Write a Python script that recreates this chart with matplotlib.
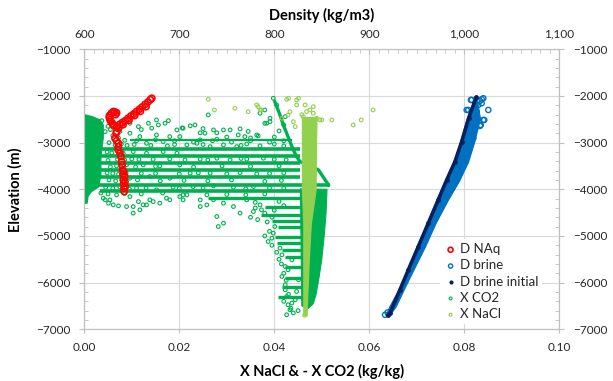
import matplotlib.pyplot as plt
from matplotlib.ticker import MultipleLocator, FuncFormatter

plt.rcParams['font.family'] = ['Lato', 'DejaVu Sans']

# ---- X CO2 (kg/kg), scattered points
co2_x = [0.0037, 0.0061, 0.0096, 0.0114, 0.0135, 0.0152, 0.0170, 0.0177, 0.0195, 0.0208,
         0.0096, 0.0117, 0.0152, 0.0180, 0.0201, 0.0044, 0.0131, 0.0166, 0.0156, 0.0206,
         0.0223, 0.0328, 0.0307, 0.0279, 0.0366, 0.0142, 0.0244, 0.0261, 0.0233, 0.0254,
         0.0272, 0.0293, 0.0324, 0.0338, 0.0363, 0.0384, 0.0391, 0.0370, 0.0244, 0.0279,
         0.0216, 0.0237, 0.0265, 0.0293, 0.0321, 0.0342, 0.0370, 0.0212, 0.0244, 0.0279,
         0.0307, 0.0342, 0.0377, 0.0223, 0.0265, 0.0300, 0.0328, 0.0363, 0.0229, 0.0272,
         0.0314, 0.0356, 0.0216, 0.0258, 0.0293, 0.0244, 0.0272, 0.0208, 0.0082, 0.0103,
         0.0131, 0.0166, 0.0195, 0.0089, 0.0124, 0.0159, 0.0201, 0.0096, 0.0138, 0.0180,
         0.0110, 0.0152, 0.0187, 0.0040, 0.0054, 0.0096, 0.0114, 0.0124, 0.0138, 0.0159,
         0.0180, 0.0201, 0.0103, 0.0051, 0.0044, 0.0061, 0.0072, 0.0089, 0.0103, 0.0117,
         0.0131, 0.0145, 0.0173, 0.0208, 0.0244, 0.0258, 0.0279, 0.0282, 0.0293, 0.0314,
         0.0328, 0.0356, 0.0370, 0.0342, 0.0387, 0.0395, 0.0398, 0.0412, 0.0416, 0.0423,
         0.0416, 0.0423, 0.0426, 0.0429, 0.0426, 0.0433, 0.0437, 0.0444, 0.0429, 0.0437,
         0.0401, 0.0380, 0.0373, 0.0423, 0.0447, 0.0451, 0.0482, 0.0486, 0.0489, 0.0398,
         0.0405, 0.0380, 0.0391, 0.0380, 0.0423,
         0.0050, 0.0055, 0.0068, 0.0075, 0.0082, 0.0060, 0.0072, 0.0085, 0.0052, 0.0065,
         0.0078, 0.0090, 0.0105, 0.0048, 0.0058, 0.0070, 0.0050, 0.0085, 0.0100, 0.0115,
         0.0055, 0.0068, 0.0078, 0.0108, 0.0048, 0.0060, 0.0072, 0.0088, 0.0120, 0.0052,
         0.0066, 0.0082, 0.0112, 0.0045, 0.0060, 0.0075, 0.0095, 0.0130, 0.0035, 0.0050,
         0.0068, 0.0085, 0.0120, 0.0165,
         0.0140, 0.0175, 0.0190, 0.0250, 0.0330, 0.0400, 0.0420, 0.0145, 0.0180, 0.0260,
         0.0330, 0.0400, 0.0425, 0.0150, 0.0230, 0.0290, 0.0350, 0.0410, 0.0150, 0.0200,
         0.0240, 0.0390, 0.0420, 0.0160, 0.0210, 0.0260, 0.0310, 0.0380, 0.0415, 0.0200,
         0.0250, 0.0340, 0.0390, 0.0420, 0.0300, 0.0340, 0.0380, 0.0410, 0.0360, 0.0400,
         0.0420,
         0.0110, 0.0150, 0.0190, 0.0230, 0.0270, 0.0310, 0.0350, 0.0390, 0.0420, 0.0300,
         0.0350, 0.0400, 0.0120, 0.0250, 0.0345, 0.0410, 0.0420,
         0.0350, 0.0365, 0.0385, 0.0395, 0.0360, 0.0390, 0.0380, 0.0395, 0.0405, 0.0410,
         0.0415, 0.0420, 0.0425, 0.0430, 0.0420, 0.0435, 0.0440, 0.0450]
co2_elev = [-2529, -2550, -2584, -2657, -2584, -2514, -2584, -2529, -2728, -2691,
            -2798, -2871, -2835, -2871, -2871, -2764, -3013, -2978, -2620, -2685,
            -2640, -2705, -2728, -2790, -2855, -2690, -2790, -2405, -2621, -2798,
            -2728, -2728, -2835, -2871, -2835, -2584, -2550, -2370, -2942, -2927,
            -3049, -3013, -3085, -3049, -3085, -3028, -3070, -3370, -3355, -3334,
            -3370, -3355, -3334, -3655, -3655, -3670, -3642, -3670, -3942, -3927,
            -3955, -3942, -4119, -4119, -4297, -4370, -4226, -4226, -3227, -3192,
            -3227, -3192, -3227, -3477, -3477, -3499, -3477, -3762, -3727, -3762,
            -3976, -4012, -3955, -4190, -4226, -4156, -4263, -4334, -4226, -4297,
            -4226, -4156, -4370, -4297, -4226, -4334, -4355, -4370, -4511, -4440,
            -4334, -4263, -4190, -4119, -4226, -4334, -4584, -4798, -4725, -4370,
            -4511, -4477, -4334, -4226, -5119, -5047, -4940, -5261, -5404, -5654,
            -5868, -6046, -6297, -6475, -6689, -6582, -6438, -6368, -5725, -5511,
            -4798, -4511, -4440, -6153, -6190, -5939, -6153, -6010, -5868, -2049,
            -2193, -2300, -2477, -2584, -2443,
            -2650, -2720, -2690, -2760, -2650, -2850, -2900, -2950, -3000, -3050,
            -3030, -3060, -3040, -3200, -3220, -3360, -3380, -3370, -3350, -3360,
            -3520, -3500, -3520, -3520, -3650, -3660, -3680, -3650, -3660, -3800,
            -3820, -3810, -3800, -3960, -3980, -3950, -3990, -3970, -4080, -4100,
            -4120, -4090, -4100, -4080,
            -3060, -3070, -3040, -3040, -3060, -3030, -3070, -3360, -3350, -3370,
            -3340, -3360, -3370, -3510, -3520, -3500, -3510, -3500, -3660, -3670,
            -3650, -3660, -3650, -3820, -3810, -3820, -3800, -3830, -3810, -3980,
            -3970, -3990, -3970, -3980, -4110, -4120, -4100, -4260, -4280, -4450,
            -4350,
            -2960, -2940, -2960, -2990, -2960, -2990, -2960, -2990, -2960, -2880,
            -2900, -2880, -2720, -2700, -2760, -2750, -2620,
            -4600, -4650, -4700, -4600, -4400, -4900, -5000, -5200, -5350, -5500,
            -5600, -5800, -5950, -6250, -6400, -6550, -6650, -6600]

# dense X CO2 rows: elevation, start and end of each row
co2_row_elev = [-2942, -3135, -3285, -3434, -3584, -3734, -3905, -4034, -4184, -4377]
co2_row_x0 = [0.0096, 0.0, 0.0, 0.0, 0.0, 0.0, 0.0, 0.0033, 0.0260, 0.0380]
co2_row_x1 = [0.0437, 0.0454, 0.0454, 0.0454, 0.0454, 0.0454, 0.0517, 0.0454, 0.0460, 0.0460]
co2_row_width = [1.6, 2.6, 2.6, 2.6, 2.6, 2.6, 2.6, 2.6, 2.4, 2.4]

# short dense X CO2 rows below -4300 m
co2_stub_elev = [-4547, -4676, -4805, -5019, -5147, -5297, -5447, -5661, -5896, -6089, -6303]
co2_stub_x0 = [0.0373, 0.0395, 0.0408, 0.0401, 0.0405, 0.0416, 0.0423, 0.0423, 0.0423, 0.0416, 0.0408]
co2_stub_x1 = [0.0460] * 11

# dense X CO2 track near 0.04
co2_track_x = [0.0401, 0.0412, 0.0419, 0.0426, 0.0433, 0.0440, 0.0447, 0.0454,
               0.0493, 0.0500, 0.0507, 0.0514]
co2_track_elev = [-2122, -2407, -2621, -2798, -2978, -3156, -3299, -3406,
                  -3584, -3691, -3798, -3905]

# solid X CO2 clusters (outline)
co2_left_x = [0.0, 0.0016, 0.0033, 0.0040, 0.0040, 0.0035, 0.0035, 0.0030,
              0.0015, 0.0008, 0.0006, 0.0]
co2_left_elev = [-2400, -2440, -2510, -2620, -2900, -3300, -3700, -3950,
                 -4050, -4150, -4300, -4300]
co2_right_x = [0.0455, 0.0511, 0.0509, 0.0505, 0.0500, 0.0494, 0.0488, 0.0482, 0.0472, 0.0458]
co2_right_elev = [-3990, -4000, -4500, -5000, -5500, -5900, -6250, -6450, -6550, -6500]

# ---- X NaCl (kg/kg)
nacl_band_elev = [-2450, -3000, -4000, -4230, -4725, -5440, -6150, -6700]
nacl_band_left = [0.0458, 0.0458, 0.0458, 0.0459, 0.0461, 0.0461, 0.0461, 0.0461]
nacl_band_right = [0.0489, 0.0488, 0.0487, 0.0484, 0.0477, 0.0473, 0.0470, 0.0468]
nacl_x = [0.0261, 0.0274, 0.0317, 0.0345, 0.0366, 0.0373, 0.0426, 0.0447, 0.0363, 0.0370,
          0.0430, 0.0451, 0.0447, 0.0465, 0.0482, 0.0500, 0.0521, 0.0566, 0.0444, 0.0440,
          0.0416, 0.0433, 0.0429, 0.0496, 0.0583, 0.0608, 0.0461, 0.0468, 0.0482, 0.0489,
          0.0475, 0.0458, 0.0464]
nacl_elev = [-2071, -2300, -2263, -2336, -2229, -2300, -2071, -2085, -2193, -2300,
             -2049, -2049, -2193, -2193, -2229, -2514, -2514, -2621, -2657, -2550,
             -2477, -2336, -2407, -2514, -2514, -2300, -2443, -2336, -2370, -2477,
             -2300, -2400, -6700]

# ---- D NAq (kg/m3)
naq_density = [634.0, 637.0, 640.0, 643.0, 646.0, 649.0, 652.0, 655.0, 658.0, 661.0,
               664.0, 667.0, 669.5, 671.0, 636.0, 641.0, 647.0, 653.0, 659.0, 665.0,
               630.5, 628.5, 626.5, 626.3, 627.0, 628.0, 629.5, 631.0, 633.0, 634.0, 632.0,
               635.8, 634.1, 633.5, 632.3, 634.0, 635.8, 635.8, 635.8, 637.6, 638.5,
               639.4, 639.8, 640.4, 640.7, 641.0, 641.4, 641.8, 642.0, 641.5, 642.5,
               642.8, 643.0]
naq_elev = [-2660, -2610, -2570, -2530, -2480, -2430, -2385, -2335, -2285, -2235,
            -2180, -2130, -2080, -2050, -2690, -2610, -2520, -2420, -2330, -2230,
            -2335, -2370, -2420, -2460, -2510, -2550, -2590, -2630, -2400, -2360, -2340,
            -2691, -2760, -2800, -2906, -2960, -3013, -3090, -3156, -3227, -3300,
            -3406, -3480, -3584, -3680, -3798, -3880, -3976, -4048, -3620, -3720,
            -3840, -3940]

# ---- D brine (kg/m3): dense band and scattered points
brine_elev = [-2050, -2477, -2978, -3407, -3820, -4226, -4725, -5226, -5725, -6153, -6511, -6700]
brine_left = [1010.5, 1002.5, 995.5, 988.5, 979.5, 970.5, 960.5, 950.0, 939.5, 930.5, 921.0, 917.0]
brine_right = [1013.0, 1016.5, 1010.5, 1004.0, 994.4, 982.7, 969.7, 958.6, 946.4, 936.1, 927.8, 920.7]
brine_density = [1007.0, 1004.2, 1016.5, 1020.0, 1018.3, 1025.3, 1021.0, 1017.3, 1014.7, 1009.5,
                 1013.0, 1011.3, 1009.5, 1020.0, 1016.5, 1007.8, 1018.3, 1002.5, 916.6, 919.2]
brine_pt_elev = [-2085, -2300, -2107, -2049, -2156, -2300, -2514, -2621, -2193, -2407,
                 -2336, -2691, -2906, -2514, -2642, -2085, -2071, -2300, -6689, -6640]

# ---- D brine initial (kg/m3)
init_density = [1012.6, 1004.6, 997.3, 990.2, 981.5, 972.6, 962.1, 951.6, 941.1, 932.3, 921.8, 919.5]
init_elev = [-2030, -2477, -2978, -3407, -3798, -4226, -4725, -5226, -5725, -6153, -6652, -6700]

GREEN = '#00B050'
LIGHT = '#92D050'
RED = '#FF0000'
BLUE = '#0070C0'
NAVY = '#002060'
EDGE = '#BFBFBF'
TXT = '#262626'

fig = plt.figure(figsize=(6.13, 3.81), dpi=100)
ax = fig.add_axes([0.1375, 0.1357, 0.7749, 0.7349])
ax.set_xlim(0, 0.10)
ax.set_ylim(-7000, -1000)

# mass fractions on the bottom axis
ax.fill(co2_left_x, co2_left_elev, color=GREEN, lw=0.8, zorder=2)
ax.fill(co2_right_x, co2_right_elev, color=GREEN, lw=0.8, zorder=2)
ax.hlines(co2_row_elev, co2_row_x0, co2_row_x1, color=GREEN, lw=co2_row_width, zorder=2)
ax.hlines(co2_stub_elev, co2_stub_x0, co2_stub_x1, color=GREEN, lw=2.4, zorder=2)
ax.plot(co2_track_x, co2_track_elev, color=GREEN, lw=2.4, zorder=2)
co2_sc = ax.scatter(co2_x, co2_elev, s=7, facecolors='none', edgecolors=GREEN,
                    linewidths=0.8, zorder=3, label='X CO2')
ax.fill_betweenx(nacl_band_elev, nacl_band_left, nacl_band_right, color=LIGHT, lw=0.8, zorder=4)
nacl_sc = ax.scatter(nacl_x, nacl_elev, s=7, facecolors='none', edgecolors=LIGHT,
                     linewidths=0.8, zorder=4, label='X NaCl')

ax.grid(True, color='#D9D9D9', lw=0.8, zorder=0)
ax.set_axisbelow(True)
ax.xaxis.set_major_locator(MultipleLocator(0.02))
ax.xaxis.set_major_formatter(FuncFormatter(lambda v, p: '%.2f' % v))
ax.yaxis.set_major_locator(MultipleLocator(1000))
ax.yaxis.set_minor_locator(MultipleLocator(200))
ax.tick_params(axis='x', which='major', direction='out', length=3, color=EDGE,
               labelsize=8.5, labelcolor=TXT, pad=6)
ax.tick_params(axis='y', which='major', direction='out', length=3.3, color=EDGE,
               labelsize=8.5, labelcolor=TXT, pad=6.5, right=True, labelright=True)
ax.tick_params(axis='y', which='minor', direction='in', length=3, color=EDGE, right=True)
ax.set_xlabel('X NaCl & - X CO2 (kg/kg)', fontsize=10.5, fontweight='bold', labelpad=8)
ax.set_ylabel('Elevation (m)', fontsize=10.5, fontweight='bold', labelpad=10)
for sp in ax.spines.values():
    sp.set_color(EDGE)
    sp.set_linewidth(0.8)

# densities on the top axis
ax2 = ax.twiny()
ax2.set_xlim(600, 1100)
ax2.fill_betweenx(brine_elev, brine_left, brine_right, color=BLUE, lw=0.8, zorder=2)
brine_sc = ax2.scatter(brine_density, brine_pt_elev, s=14, facecolors='none',
                       edgecolors=BLUE, linewidths=1.0, zorder=3, label='D brine')
ax2.plot(init_density, init_elev, color=NAVY, lw=2.6, solid_capstyle='round', zorder=4)
init_sc = ax2.scatter(init_density, init_elev, s=6, color=NAVY, zorder=4,
                      label='D brine initial')
naq_sc = ax2.scatter(naq_density, naq_elev, s=20, facecolors='none', edgecolors=RED,
                     linewidths=1.2, zorder=5, label='D NAq')

ax2.xaxis.set_major_locator(MultipleLocator(100))
ax2.xaxis.set_minor_locator(MultipleLocator(10))
ax2.xaxis.set_major_formatter(FuncFormatter(lambda v, p: '{:,.0f}'.format(v)))
ax2.tick_params(axis='x', which='major', direction='in', length=3.3, color=EDGE,
                labelsize=8.5, labelcolor=TXT, pad=7)
ax2.tick_params(axis='x', which='minor', direction='in', length=3, color=EDGE)
ax2.set_xlabel('Density (kg/m3)', fontsize=10.5, fontweight='bold', labelpad=6)
for sp in ax2.spines.values():
    sp.set_color(EDGE)
    sp.set_linewidth(0.8)

leg = ax2.legend([naq_sc, brine_sc, init_sc, co2_sc, nacl_sc],
                 ['D NAq', 'D brine', 'D brine initial', 'X CO2', 'X NaCl'],
                 loc='upper left', bbox_to_anchor=(0.735, 0.345), fontsize=9.5,
                 frameon=True, framealpha=1, facecolor='white', edgecolor='none',
                 fancybox=False, handletextpad=0.2, labelspacing=0.32,
                 handlelength=1.0, borderpad=0.3, markerscale=0.8)
for t in leg.get_texts():
    t.set_color(TXT)

fig.savefig('out.png', dpi=100)
